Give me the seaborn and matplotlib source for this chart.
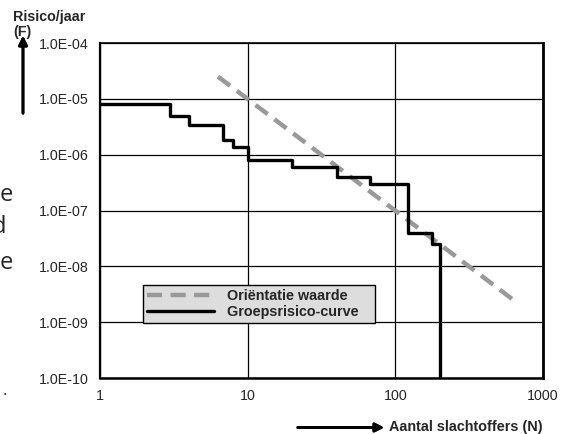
import numpy as np
import pandas as pd
import seaborn as sns
import matplotlib.pyplot as plt
from matplotlib.ticker import FixedLocator, LogLocator, NullFormatter, FuncFormatter

sns.set_style('white')
plt.rcParams['font.family'] = ['Liberation Sans', 'DejaVu Sans']

# groepsrisico curve (steps-post)
n_curve = [1, 3, 4, 6.8, 8, 10, 20, 40, 67, 121, 178, 200]
f_curve = [8e-6, 5e-6, 3.4e-6, 1.8e-6, 1.4e-6, 8e-7, 6e-7, 4e-7, 3e-7, 4e-8, 2.5e-8, 1e-12]

# orientatiewaarde
n_orient = [6.3, 630]
f_orient = [2.5e-5, 2.5e-9]

x_ticks = [1, 10, 100, 1000]
x_labels = ['1', '10', '100', '1000']
y_ticks = [1e-10, 1e-9, 1e-8, 1e-7, 1e-6, 1e-5, 1e-4]

W, H = 564, 434
fig = plt.figure(figsize=(W / 100, H / 100), dpi=100)
ax = fig.add_axes([100 / W, 1 - 378 / H, 443 / W, 335 / H])

curve = pd.DataFrame({'N': n_curve, 'F': f_curve})
orient = pd.DataFrame({'N': n_orient, 'F': f_orient})

sns.lineplot(data=orient, x='N', y='F', ax=ax, color='#999999', lw=3.2,
             linestyle=(0, (3.4, 1.9)), label='Oriëntatie waarde')
sns.lineplot(data=curve, x='N', y='F', ax=ax, color='black', lw=2.4,
             drawstyle='steps-post', label='Groepsrisico-curve')

ax.set_xscale('log')
ax.set_yscale('log')
ax.set_xlim(1, 1000)
ax.set_ylim(1e-10, 1e-4)
ax.set_xlabel('')
ax.set_ylabel('')

ax.xaxis.set_major_locator(FixedLocator(x_ticks))
ax.set_xticklabels(x_labels)
ax.xaxis.set_minor_locator(LogLocator(base=10, subs=np.arange(2, 10)))
ax.xaxis.set_minor_formatter(NullFormatter())
ax.yaxis.set_major_locator(FixedLocator(y_ticks))
ax.yaxis.set_major_formatter(FuncFormatter(lambda v, p: f'{v:.1E}'))
ax.yaxis.set_minor_locator(LogLocator(base=10, subs=np.arange(2, 10)))
ax.yaxis.set_minor_formatter(NullFormatter())

ax.tick_params(which='major', direction='out', length=4, width=1, labelsize=10.3,
               pad=4, color='black')
ax.tick_params(which='minor', direction='in', length=4, width=0.8, color='black')
ax.grid(True, which='major', color='black', lw=0.9)
for side in ['left', 'bottom', 'right', 'top']:
    ax.spines[side].set_color('black')
ax.spines['left'].set_linewidth(1.6)
ax.spines['bottom'].set_linewidth(1.8)
ax.spines['right'].set_linewidth(2)
ax.spines['top'].set_linewidth(1.2)

handles, labels = ax.get_legend_handles_labels()
leg = ax.legend(handles, [l + '   ' for l in labels], loc='upper left',
                bbox_to_anchor=(143 / W, 1 - 285 / H),
                bbox_transform=fig.transFigure, borderaxespad=0, fancybox=False,
                framealpha=1, facecolor='#dddddd', edgecolor='black',
                prop={'weight': 'bold', 'size': 10.4}, handlelength=4.6,
                borderpad=0.3, labelspacing=0.1, handletextpad=0.9)
leg.get_frame().set_linewidth(1)

# axis titles with arrows
fig.text(13 / W, 1 - 17 / H, 'Risico/jaar', fontsize=10.3, fontweight='bold',
         va='center', ha='left')
fig.text(13 / W, 1 - 32 / H, '(F)', fontsize=10.3, fontweight='bold',
         va='center', ha='left')
fig.add_artist(plt.annotate('', xy=(23 / W, 1 - 33 / H), xytext=(23 / W, 1 - 116 / H),
                            xycoords='figure fraction',
                            arrowprops=dict(arrowstyle='-|>', lw=2, color='black',
                                            mutation_scale=13)))
fig.text(389 / W, 1 - 427 / H, 'Aantal slachtoffers (N)', fontsize=10.4,
         fontweight='bold', va='center', ha='left')
fig.add_artist(plt.annotate('', xy=(387 / W, 1 - 427.5 / H), xytext=(295 / W, 1 - 427.5 / H),
                            xycoords='figure fraction',
                            arrowprops=dict(arrowstyle='-|>', lw=2, color='black',
                                            mutation_scale=13)))

# stray text from the surrounding page (cut off at the left edge, as in the source)
side_font = ['Open Sans', 'DejaVu Sans']
fig.text(13 / W, 1 - 195 / H, 'e', fontsize=17, family=side_font, ha='right', va='center')
fig.text(6 / W, 1 - 227 / H, 'd', fontsize=17, family=side_font, ha='right', va='center')
fig.text(13 / W, 1 - 263 / H, 'e', fontsize=17, family=side_font, ha='right', va='center')
fig.text(5 / W, 1 - 399 / H, '.', fontsize=12, family=side_font, ha='center', va='bottom')

plt.savefig('out.png', dpi=100)
